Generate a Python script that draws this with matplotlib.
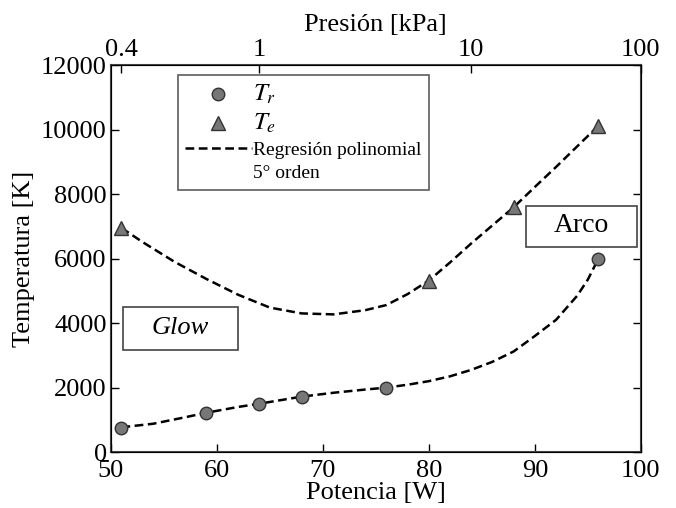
import numpy as np
import matplotlib.pyplot as plt
from matplotlib.lines import Line2D
from matplotlib.patches import Rectangle

plt.rcParams['font.family'] = ['Liberation Serif', 'DejaVu Serif']
plt.rcParams['mathtext.fontset'] = 'stix'

# measured points
potencia_tr = [51, 59, 64, 68, 76, 96]
temp_tr = [750, 1220, 1500, 1720, 2000, 6000]
potencia_te = [51, 80, 88, 96]
temp_te = [6950, 5320, 7590, 10120]

# regression curves
fit_x_tr = [51, 54, 57, 59, 62, 64, 66, 68, 71, 74, 76, 78, 80, 82, 84, 86, 88, 90, 92, 94, 95, 96]
fit_y_tr = [770, 880, 1080, 1220, 1400, 1500, 1610, 1720, 1840, 1940, 2000, 2090, 2200, 2350, 2550, 2800, 3120, 3600, 4100, 4850, 5350, 6000]
fit_x_te = [51, 53, 56, 59, 62, 65, 68, 71, 74, 76, 78, 80, 82, 84, 86, 88, 90, 92, 94, 96]
fit_y_te = [6950, 6510, 5900, 5370, 4880, 4480, 4300, 4270, 4400, 4560, 4900, 5320, 5880, 6470, 7030, 7590, 8220, 8840, 9480, 10120]

# top axis: pressure labels at their power positions
press_pos = [51, 64, 84, 100]
press_labels = ['0.4', '1', '10', '100']

fig = plt.figure(figsize=(6.76, 5.08), dpi=100)
ax = fig.add_axes([0.164, 0.110, 0.784, 0.762])

dash = (0, (3.5, 1.8))
ax.plot(fit_x_te, fit_y_te, color='black', lw=1.8, linestyle=dash, zorder=2)
ax.plot(fit_x_tr, fit_y_tr, color='black', lw=1.8, linestyle=dash, zorder=2)
ax.plot(potencia_tr, temp_tr, 'o', ms=9, mfc='#777777', mec='#333333', mew=1, zorder=3)
ax.plot(potencia_te, temp_te, '^', ms=10, mfc='#777777', mec='#333333', mew=1, zorder=3)

ax.set_xlim(50, 100)
ax.set_ylim(0, 12000)
ax.set_xticks([50, 60, 70, 80, 90, 100])
ax.set_yticks(np.arange(0, 12001, 2000))
ax.tick_params(direction='in', length=6, width=1, labelsize=19, top=True, right=True, pad=3)
ax.tick_params(axis='x', pad=6)
ax.set_xlabel('Potencia [W]', fontsize=19, labelpad=0)
ax.set_ylabel('Temperatura [K]', fontsize=19, labelpad=4)
for s in ax.spines.values():
    s.set_color('#444444')
    s.set_linewidth(1.5)

ax2 = ax.twiny()
ax2.set_xlim(50, 100)
ax2.set_xticks(press_pos)
ax2.set_xticklabels(press_labels)
ax2.tick_params(direction='in', length=6, width=1, labelsize=19, pad=3)
ax2.set_xlabel('Presión [kPa]', fontsize=19, labelpad=6)

# boxes for regimes
ax.add_patch(Rectangle((51.1, 3160), 10.9, 1340, fill=False, ec='#444444', lw=1.2, zorder=4))
ax.text(56.5, 3850, 'Glow', fontsize=19, style='italic', ha='center', va='center')
ax.add_patch(Rectangle((89.2, 6360), 10.4, 1270, fc='white', ec='#444444', lw=1.2, zorder=4))
ax.text(94.4, 7010, 'Arco', fontsize=20, ha='center', va='center', zorder=5)

handles = [
    Line2D([], [], marker='o', ls='none', ms=9, mfc='#777777', mec='#333333'),
    Line2D([], [], marker='^', ls='none', ms=10, mfc='#777777', mec='#333333'),
    Line2D([], [], color='black', lw=1.8, linestyle=dash),
    Line2D([], [], ls='none'),
]
labels = ['$T_r$', '$T_e$', 'Regresión polinomial', '5° orden']
leg = ax.legend(handles, labels, loc='upper left', bbox_to_anchor=(0.126, 0.974),
                fontsize=14, frameon=True, fancybox=False, edgecolor='#333333',
                handlelength=3.4, handletextpad=0.05, labelspacing=0.3, borderpad=0.4,
                borderaxespad=0)
leg.get_frame().set_linewidth(1.2)
leg.texts[0].set_fontsize(18)
leg.texts[1].set_fontsize(18)

fig.savefig('out.png', dpi=100)
